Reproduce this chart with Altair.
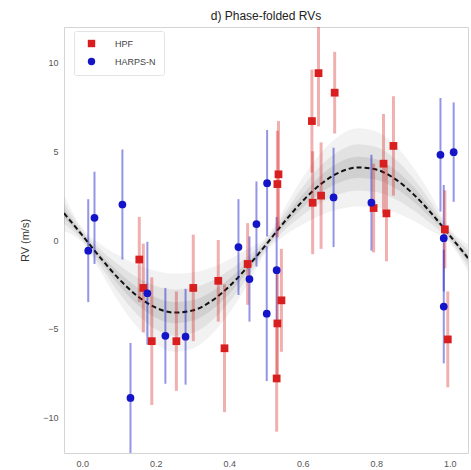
import altair as alt
import pandas as pd

# ---- data ----
hpf_phase = [0.155, 0.166, 0.189, 0.256, 0.302, 0.370, 0.387, 0.450, 0.529, 0.531, 0.542, 0.531, 0.534,
             0.625, 0.627, 0.643, 0.650, 0.687, 0.793, 0.820, 0.828, 0.847, 0.987, 0.995]
hpf_rv = [-1.1, -2.7, -5.7, -5.7, -2.7, -2.3, -6.1, -1.35, -7.8, -4.7, -3.4, 3.15, 3.7,
          6.7, 2.1, 9.4, 2.5, 8.3, 1.8, 4.3, 1.5, 5.3, 0.6, -5.6]
hpf_err = [2.4, 2.5, 3.6, 2.8, 3.0, 2.3, 3.6, 2.3, 3.0, 2.9, 2.9, 3.0, 3.0,
           2.9, 2.9, 3.0, 3.0, 2.3, 2.5, 2.8, 2.7, 2.8, 2.2, 2.7]

harps_phase = [0.016, 0.033, 0.109, 0.131, 0.177, 0.226, 0.281, 0.425, 0.455, 0.474, 0.503, 0.502,
               0.529, 0.684, 0.787, 0.975, 0.984, 0.984, 1.011]
harps_rv = [-0.6, 1.25, 2.0, -8.9, -3.0, -5.4, -5.45, -0.4, -2.2, 0.9, 3.2, -4.15,
            -1.7, 2.4, 2.1, 4.8, 0.1, -3.75, 4.95]
harps_err = [2.9, 2.6, 3.1, 3.1, 2.9, 2.7, 2.7, 2.7, 2.4, 2.4, 3.0, 3.8,
             3.0, 2.8, 2.7, 3.2, 3.0, 3.2, 2.8]

model_phase = [-0.05, 0.0, 0.05, 0.10, 0.15, 0.20, 0.25, 0.30, 0.35, 0.40, 0.45, 0.50,
               0.55, 0.60, 0.65, 0.70, 0.75, 0.80, 0.85, 0.90, 0.95, 1.00, 1.05]
model_rv = [1.51, 0.26, -1.02, -2.20, -3.16, -3.81, -4.09, -3.97, -3.46, -2.61, -1.51, -0.26,
            1.02, 2.20, 3.16, 3.81, 4.09, 3.97, 3.46, 2.61, 1.51, 0.26, -1.02]
band_outer = [1.0, 0.42, 0.77, 1.32, 1.76, 2.07, 2.2, 2.14, 1.9, 1.51, 1.0, 0.42,
              0.77, 1.32, 1.76, 2.07, 2.2, 2.14, 1.9, 1.51, 1.0, 0.42, 0.77]
band_middle = [0.6, 0.27, 0.47, 0.79, 1.05, 1.22, 1.3, 1.27, 1.13, 0.9, 0.6, 0.27,
               0.47, 0.79, 1.05, 1.22, 1.3, 1.27, 1.13, 0.9, 0.6, 0.27, 0.47]
band_inner = [0.28, 0.13, 0.22, 0.37, 0.49, 0.57, 0.6, 0.58, 0.52, 0.42, 0.28, 0.13,
              0.22, 0.37, 0.49, 0.57, 0.6, 0.58, 0.52, 0.42, 0.28, 0.13, 0.22]

instruments = ["HPF", "HARPS-N"]
inst_colors = ["#d81e1e", "#1414c8"]
inst_shapes = ["square", "circle"]

# ---- tables ----
pts = pd.concat([
    pd.DataFrame({"phase": hpf_phase, "rv": hpf_rv, "err": hpf_err, "inst": "HPF"}),
    pd.DataFrame({"phase": harps_phase, "rv": harps_rv, "err": harps_err, "inst": "HARPS-N"}),
], ignore_index=True)
pts["lo"] = pts["rv"] - pts["err"]
pts["hi"] = pts["rv"] + pts["err"]

model = pd.DataFrame({"phase": model_phase, "rv": model_rv})
for name, hw in [("outer", band_outer), ("middle", band_middle), ("inner", band_inner)]:
    model[name + "_lo"] = [m - h for m, h in zip(model_rv, hw)]
    model[name + "_hi"] = [m + h for m, h in zip(model_rv, hw)]

xsc = alt.Scale(domain=[-0.05, 1.05], nice=False, zero=False)
ysc = alt.Scale(domain=[-12, 12], nice=False, zero=False)
xax = alt.Axis(values=[0, 0.2, 0.4, 0.6, 0.8, 1.0], format=".1f", title=None)
yax = alt.Axis(values=[-10, -5, 0, 5, 10], format="d", title="RV (m/s)")

color_sc = alt.Scale(domain=instruments, range=inst_colors)
shape_sc = alt.Scale(domain=instruments, range=inst_shapes)

base_m = alt.Chart(model)

def band(name, col, op):
    return base_m.mark_area(color=col, opacity=op, interpolate="monotone", clip=True).encode(
        x=alt.X("phase:Q", scale=xsc, axis=xax),
        y=alt.Y(name + "_lo:Q", scale=ysc, axis=yax),
        y2=name + "_hi:Q",
    )

bands = band("outer", "#a0a0a0", 0.14) + band("middle", "#909090", 0.16) + band("inner", "#808080", 0.18)

line = base_m.mark_line(color="#111111", strokeDash=[5, 3], strokeWidth=2,
                        interpolate="monotone", clip=True).encode(
    x=alt.X("phase:Q", scale=xsc),
    y=alt.Y("rv:Q", scale=ysc),
)

bars_blue = alt.Chart(pts).transform_filter(alt.datum.inst == "HARPS-N").mark_rule(
    strokeWidth=2, opacity=0.45, clip=True, color=inst_colors[1]).encode(
    x=alt.X("phase:Q", scale=xsc),
    y=alt.Y("lo:Q", scale=ysc),
    y2="hi:Q",
)
bars_red = alt.Chart(pts).transform_filter(alt.datum.inst == "HPF").mark_rule(
    strokeWidth=3, opacity=0.35, clip=True, color=inst_colors[0]).encode(
    x=alt.X("phase:Q", scale=xsc),
    y=alt.Y("lo:Q", scale=ysc),
    y2="hi:Q",
)

points = alt.Chart(pts).mark_point(filled=True, opacity=1, size=60, clip=True).encode(
    x=alt.X("phase:Q", scale=xsc),
    y=alt.Y("rv:Q", scale=ysc),
    color=alt.Color("inst:N", scale=color_sc, title=None,
                    legend=alt.Legend(orient="none", legendX=10, legendY=4, title=None,
                                      labelFontSize=9, labelColor="#444444",
                                      symbolSize=55, strokeColor="#e4e4e4", fillColor="white",
                                      padding=8, rowPadding=8, labelOffset=19,
                                      symbolOffset=5, cornerRadius=2, labelLimit=200)),
    shape=alt.Shape("inst:N", scale=shape_sc, title=None),
)

chart = alt.layer(bands, line, bars_blue, bars_red, points).properties(
    width=404, height=426,
    title=alt.TitleParams("d) Phase-folded RVs", fontSize=12, fontWeight="normal",
                          color="#222222", font="Liberation Sans", offset=4),
    autosize=alt.AutoSizeParams(type="none"),
    padding={"left": 64, "top": 27, "right": 3, "bottom": 17},
).configure_view(stroke="#d4d4d4", strokeWidth=1).configure_axis(
    grid=False, ticks=False, domain=False, labelFont="Liberation Sans", labelFontSize=9,
    labelColor="#555555", titleFont="Liberation Sans", titleFontSize=11,
    titleFontWeight="normal", titleColor="#333333", labelPadding=6,
).configure_axisY(titlePadding=12).configure_legend(labelFont="Liberation Sans")

chart.save("out.html", embed_options={"renderer": "svg", "actions": False})
